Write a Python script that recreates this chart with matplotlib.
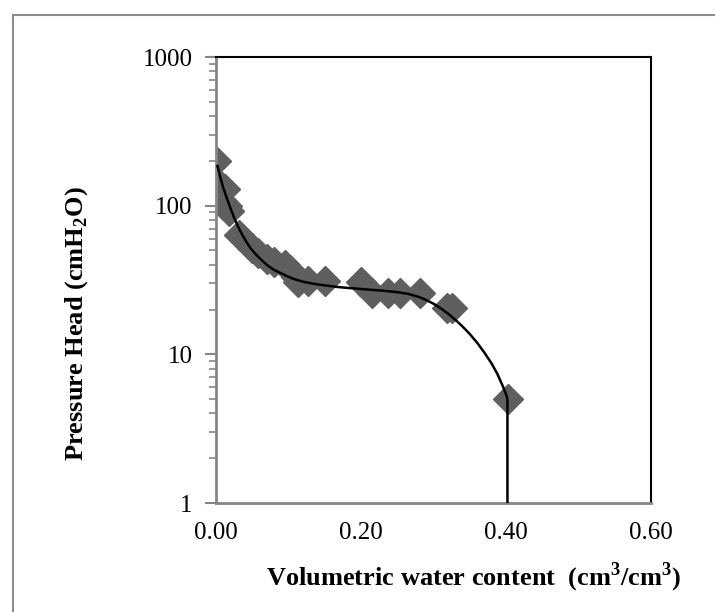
import matplotlib
matplotlib.use('Agg')
import matplotlib.pyplot as plt
from matplotlib.lines import Line2D
from matplotlib.ticker import LogLocator, NullFormatter, FixedLocator

plt.rcParams['font.family'] = ['Liberation Serif', 'DejaVu Serif']
plt.rcParams['mathtext.fontset'] = 'custom'
plt.rcParams['mathtext.rm'] = 'Liberation Serif'
plt.rcParams['mathtext.bf'] = 'Liberation Serif:bold'

# measured points (water content, pressure head)
theta_obs = [0.000, 0.004, 0.012, 0.008, 0.015, 0.018, 0.032, 0.050, 0.058,
             0.070, 0.080, 0.095, 0.102, 0.110, 0.113, 0.127, 0.150, 0.200,
             0.215, 0.237, 0.254, 0.281, 0.318, 0.325, 0.403]
head_obs = [200, 140, 130, 108, 100, 92, 63, 52, 48,
            44, 42, 40, 37, 33, 30.5, 31, 31, 30.5,
            26, 26, 26, 26, 20.5, 20.5, 5]

# fitted curve
theta_fit = [0.002, 0.006, 0.010, 0.015, 0.020, 0.025, 0.030, 0.036, 0.042,
             0.048, 0.055, 0.062, 0.070, 0.080, 0.090, 0.100, 0.110, 0.120,
             0.135, 0.150, 0.170, 0.200, 0.230, 0.250, 0.265, 0.280, 0.290,
             0.300, 0.310, 0.320, 0.330, 0.340, 0.350, 0.360, 0.370, 0.380,
             0.388, 0.395, 0.400, 0.402, 0.402]
head_fit = [185, 155, 132, 112, 96, 83, 73, 64, 57,
            51.5, 47, 43.5, 40, 37, 35, 33.2, 31.8, 30.8,
            29.8, 29.1, 28.3, 27.5, 26.8, 26.2, 25.5, 24.3, 23.2,
            21.9, 20.4, 18.8, 17.1, 15.4, 13.7, 12.0, 10.3, 8.7,
            7.4, 6.2, 5.4, 5, 1]

y_ticks = [1, 10, 100, 1000]
x_ticks = [0.0, 0.2, 0.4, 0.6]

fig = plt.figure(figsize=(7.15, 6.12), dpi=100)
ax = fig.add_axes([216/715, 1-503/612, 435/715, 446/612])

ax.plot(theta_obs, head_obs, linestyle='none', marker='D', markersize=15,
        color='#5f5f5f', zorder=2)
ax.plot(theta_fit, head_fit, color='black', linewidth=1.8, zorder=3)

ax.set_yscale('log')
ax.set_ylim(1, 1000)
ax.set_xlim(0, 0.6)
ax.yaxis.set_major_locator(FixedLocator(y_ticks))
ax.set_yticklabels([str(v) for v in y_ticks])
ax.yaxis.set_minor_locator(LogLocator(base=10, subs=range(2, 10)))
ax.yaxis.set_minor_formatter(NullFormatter())
ax.set_xticks(x_ticks)
ax.set_xticklabels(['%.2f' % v for v in x_ticks])

ax.tick_params(axis='y', which='major', direction='out', length=8, width=1.5,
               color='#868686', labelsize=18, pad=9)
ax.tick_params(axis='y', which='minor', direction='out', length=5, width=1.2,
               color='#868686')
ax.tick_params(axis='x', length=0, labelsize=18, pad=14)

for s in ['left', 'bottom']:
    ax.spines[s].set_color('#868686')
    ax.spines[s].set_linewidth(2)
for s in ['top', 'right']:
    ax.spines[s].set_color('black')
    ax.spines[s].set_linewidth(1.5)

fig.text(474/715, 1-577/612, r'Volumetric water content  (cm$^\mathbf{3}$/cm$^\mathbf{3}$)',
         ha='center', va='center', fontsize=19, fontweight='bold')
fig.text(77/715, 1-324/612, r'Pressure Head (cmH$_\mathbf{2}$O)', rotation=90,
         ha='center', va='center', fontsize=19, fontweight='bold')

# outer frame (cut at right and bottom)
fig.add_artist(Line2D([13/715, 13/715], [0, 1-15/612], transform=fig.transFigure,
                      color='#8c8c8c', linewidth=1.5))
fig.add_artist(Line2D([13/715, 1], [1-15/612, 1-15/612], transform=fig.transFigure,
                      color='#8c8c8c', linewidth=1.5))

plt.savefig('out.png', dpi=100)
